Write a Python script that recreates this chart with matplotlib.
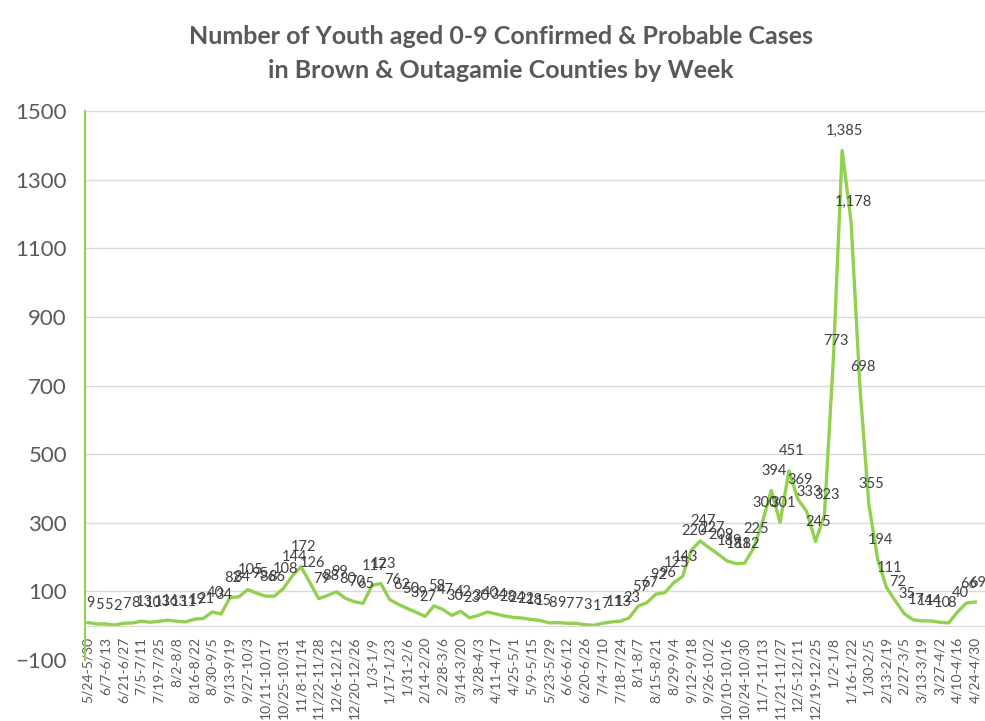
import matplotlib
matplotlib.use("Agg")
import matplotlib.pyplot as plt

plt.rcParams["font.family"] = ["Lato", "DejaVu Sans"]

# weekly cases, youth aged 0-9, 5/24/2020 through 4/30/2022
cases = [9, 5, 5, 2, 7, 8, 13, 10, 13, 16, 13, 11, 19, 21, 40, 34,
         82, 84, 105, 95, 86, 86, 108, 144, 172, 126, 79, 88, 99, 80, 70, 65, 117, 123,
         76, 62, 50, 39, 27, 58, 47, 30, 42, 23, 30, 40, 34, 28, 24,
         22, 18, 15, 8, 9, 7, 7, 3, 1, 7, 11, 13, 23, 57, 67, 92, 96, 125, 143,
         220, 247, 227, 209, 189, 181, 182, 225, 300, 394, 301, 451, 369, 333, 245, 323, 773,
         1385, 1178, 698, 355, 194, 111, 72, 35, 17, 14, 14, 10, 8, 40, 66, 69]

# every other week gets a category label
week_labels = ["5/24-5/30", "6/7-6/13", "6/21-6/27", "7/5-7/11", "7/19-7/25",
               "8/2-8/8", "8/16-8/22", "8/30-9/5", "9/13-9/19", "9/27-10/3",
               "10/11-10/17", "10/25-10/31", "11/8-11/14", "11/22-11/28", "12/6-12/12",
               "12/20-12/26", "1/3-1/9", "1/17-1/23", "1/31-2/6", "2/14-2/20",
               "2/28-3/6", "3/14-3/20", "3/28-4/3", "4/11-4/17", "4/25-5/1",
               "5/9-5/15", "5/23-5/29", "6/6-6/12", "6/20-6/26", "7/4-7/10",
               "7/18-7/24", "8/1-8/7", "8/15-8/21", "8/29-9/4", "9/12-9/18",
               "9/26-10/2", "10/10-10/16", "10/24-10/30", "11/7-11/13", "11/21-11/27",
               "12/5-12/11", "12/19-12/25", "1/2-1/8", "1/16-1/22", "1/30-2/5",
               "2/13-2/19", "2/27-3/5", "3/13-3/19", "3/27-4/2", "4/10-4/16",
               "4/24-4/30"]

y_ticks = [-100, 100, 300, 500, 700, 900, 1100, 1300, 1500]

GREEN = "#92D050"
GREY = "#595959"
LABEL = "#404040"
GRID = "#D9D9D9"


def plot_cases(ax):
    weeks = list(range(len(cases)))
    ax.plot(weeks, cases, color = GREEN, lw = 2.4, solid_joinstyle = "round")

    for x, v in zip(weeks, cases):
        ax.annotate(f"{v:,}", (x, v),
                    xytext = (2, 14),
                    textcoords = "offset points",
                    ha = "center", va = "center",
                    fontsize = 10.5, color = LABEL)

    ax.set_xlim(-0.34, len(cases) - 1 + 1.1)
    ax.set_ylim(-100, 1500)
    ax.set_yticks(y_ticks)
    ax.set_xticks(weeks[::2])
    ax.set_xticklabels(week_labels)

    ax.grid(axis = "y", color = GRID, lw = 1)
    ax.set_axisbelow(True)

    for side in ("top", "right"):
        ax.spines[side].set_visible(False)
    ax.spines["left"].set_color(GREEN)
    ax.spines["left"].set_linewidth(1.5)
    ax.spines["bottom"].set_position(("data", 0))
    ax.spines["bottom"].set_color(GRID)

    ax.tick_params(axis = "y", length = 0, pad = 13,
                   labelsize = 16, labelcolor = GREY)
    ax.tick_params(axis = "x", length = 0, pad = 8,
                   labelsize = 10, labelcolor = GREY,
                   labelrotation = 90)


fig = plt.figure(figsize = (9.85, 7.21), dpi = 100)
ax = fig.add_axes([85 / 985, 1 - 660 / 721, 900 / 985, 549 / 721])
plot_cases(ax)

fig.text(501 / 985, 1 - 37 / 721,
         "Number of Youth aged 0-9 Confirmed & Probable Cases",
         ha = "center", va = "center", fontsize = 18,
         fontweight = "bold", color = GREY)
fig.text(501 / 985, 1 - 70 / 721,
         "in Brown & Outagamie Counties by Week",
         ha = "center", va = "center", fontsize = 18,
         fontweight = "bold", color = GREY)

fig.savefig("out.png", dpi = 100)
